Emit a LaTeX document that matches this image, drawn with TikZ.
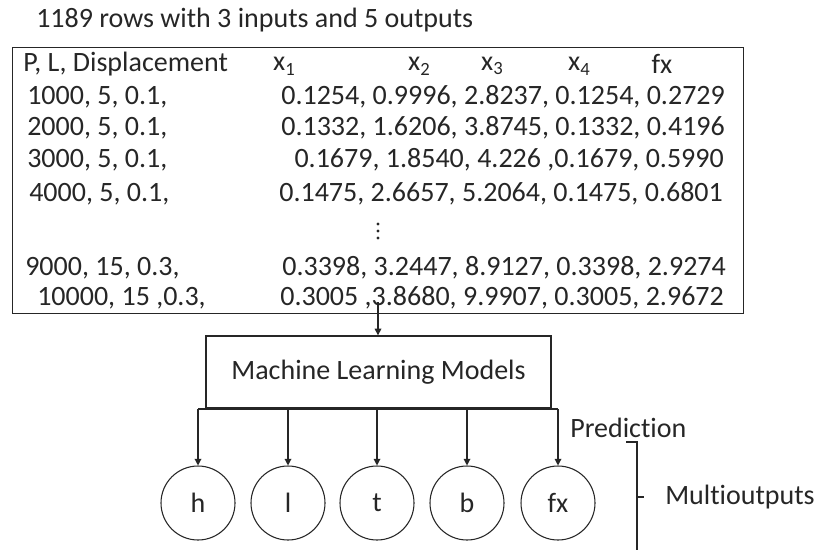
\documentclass[tikz,border=0pt]{standalone}
\usepackage{fontspec}
\setmainfont{Carlito}[Ligatures=NoCommon]
\usetikzlibrary{arrows.meta}
\newcommand{\xs}[1]{x\raisebox{-0.35ex}{\fontsize{14}{16}\selectfont #1}}
\begin{document}
\begin{tikzpicture}[x=0.75pt,y=-0.75pt,
  txt/.style={inner sep=0pt,text=black!85,font=\fontsize{21}{24}\selectfont},
  boxline/.style={draw=black!85,line width=1pt},
  arr/.style={draw=black!85,line width=0.9pt,-{Triangle[length=5pt,width=5pt]}},
  outc/.style={circle,draw=black!85,line width=0.8pt,minimum size=55.5pt,inner sep=0pt,text=black!85,font=\fontsize{21}{24}\selectfont}]
\useasboundingbox (0,0) rectangle (816,550);
\node[txt,anchor=west] (title) at (36,20) {1189 rows with 3 inputs and 5 outputs};
\node[boxline,anchor=north west,minimum width=548.25pt,minimum height=199.5pt,inner sep=0pt] (table) at (12,47) {};
% header
\node[txt,anchor=west] (h0) at (23,64) {P, L, Displacement};
\node[txt] (hx1) at (284,66) {\xs{1}};
\node[txt] (hx2) at (419,66) {\xs{2}};
\node[txt] (hx3) at (492,66) {\xs{3}};
\node[txt] (hx4) at (579,66) {\xs{4}};
\node[txt] (hfx) at (662,64) {fx};
% rows
\node[txt,anchor=west] (l1) at (27,97) {1000, 5, 0.1,};
\node[txt,anchor=east] (r1) at (725,97) {0.1254, 0.9996, 2.8237, 0.1254, 0.2729};
\node[txt,anchor=west] (l2) at (27,128) {2000, 5, 0.1,};
\node[txt,anchor=east] (r2) at (725,128) {0.1332, 1.6206, 3.8745, 0.1332, 0.4196};
\node[txt,anchor=west] (l3) at (27,160) {3000, 5, 0.1,};
\node[txt,anchor=east] (r3) at (724,160) {0.1679, 1.8540, 4.226 ,0.1679, 0.5990};
\node[txt,anchor=west] (l4) at (29,194) {4000, 5, 0.1,};
\node[txt,anchor=east] (r4) at (723,194) {0.1475, 2.6657, 5.2064, 0.1475, 0.6801};
\foreach \yy in {224,231,238}{\fill[black!85] (378,\yy) circle[radius=1.6];}
\node[txt,anchor=west] (l5) at (25,268) {9000, 15, 0.3,};
\node[txt,anchor=east] (r5) at (726,268) {0.3398, 3.2447, 8.9127, 0.3398, 2.9274};
\node[txt,anchor=west] (l6) at (37,298) {10000, 15 ,0.3,};
\node[txt,anchor=east] (r6) at (724,298) {0.3005 ,3.8680, 9.9907, 0.3005, 2.9672};
% model
\node[boxline,minimum width=258.75pt,minimum height=54pt,inner sep=0pt,text=black!85,font=\fontsize{21}{24}\selectfont] (ml) at (378.5,372) {Machine Learning Models};
\coordinate (src) at (378,302);
\draw[arr] (src) -- (ml.north -| src);
% outputs
\node[outc] (oh) at (198,503) {h};
\node[outc] (ol) at (288,503) {l};
\node[outc] (ot) at (377,503) {t};
\node[outc] (ob) at (467,503) {b};
\node[outc] (ofx) at (558,503) {fx};
\coordinate (busL) at (198,409);
\coordinate (busR) at (558,409);
\draw[draw=black!85,line width=1pt] (busL) -- (busR);
\foreach \n in {oh,ol,ot,ob,ofx}{
  \draw[arr] (\n.north |- busL) -- (\n.north);
}
\node[txt,anchor=west] (pred) at (570,428) {Prediction};
\node[txt,anchor=west] (multi) at (665,497) {Multioutputs};
\coordinate (brT) at (626,442);
\coordinate (brC) at (637,442);
\coordinate (brB) at (637,550);
\coordinate (brM) at (637,497);
\coordinate (brMt) at (644,497);
\draw[draw=black!85,line width=1pt] (brT) -- (brC) -- (brB);
\draw[draw=black!85,line width=1pt] (brM) -- (brMt);
\end{tikzpicture}
\end{document}
